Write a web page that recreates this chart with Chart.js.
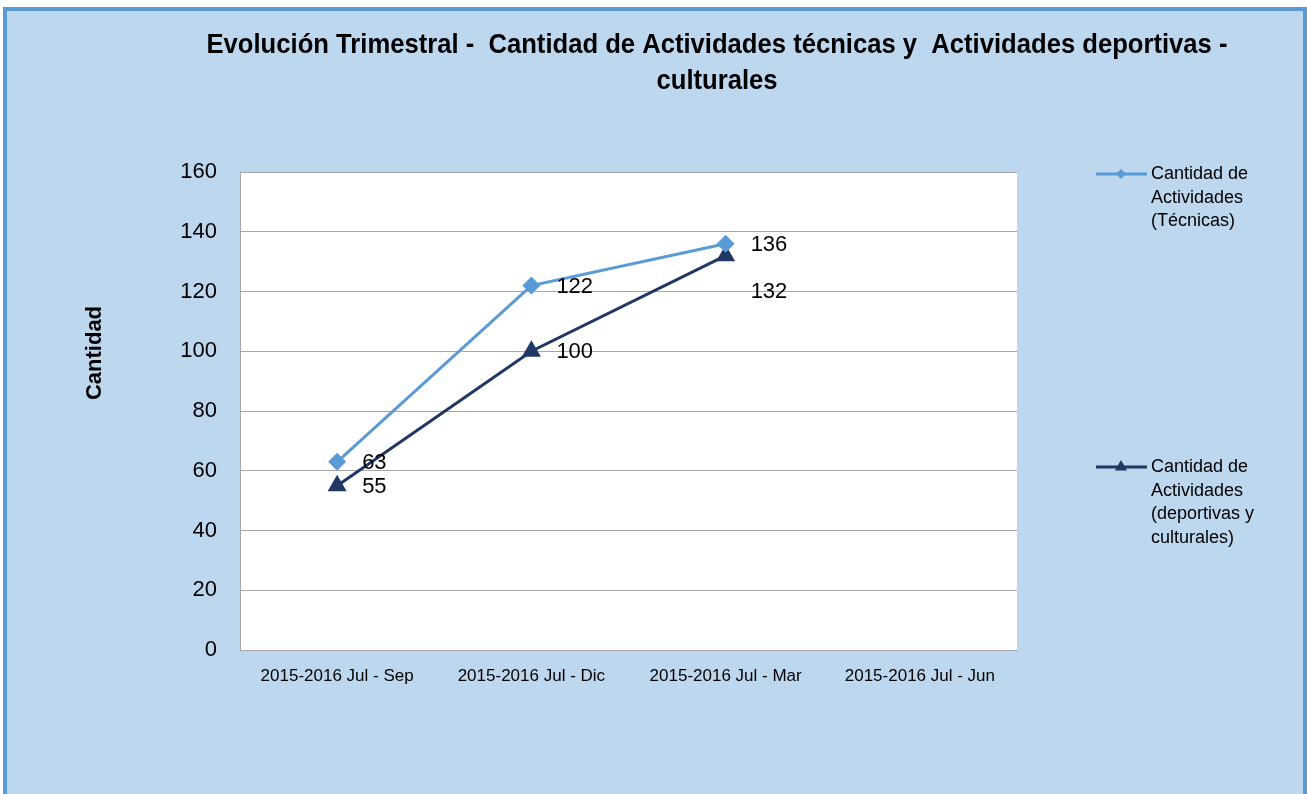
<!DOCTYPE html>
<html>
<head>
<meta charset="utf-8">
<script src="https://cdn.jsdelivr.net/npm/chart.js@4.4.0/dist/chart.umd.min.js"></script>
<style>
  html, body { margin: 0; padding: 0; background: #fff; overflow: hidden; }
  #frame {
    position: absolute; left: 3px; top: 7px; width: 1296px; height: 800px;
    border: 4px solid #5b9bd5; border-bottom: none; background: #bdd7ee;
  }
  #chart { position: absolute; left: 0; top: 0; }
</style>
</head>
<body>
<div id="frame"></div>
<canvas id="chart" width="1307" height="794"></canvas>
<script>
/* Evolución trimestral – actividades técnicas vs deportivas/culturales */

const categories  = ['2015-2016 Jul - Sep', '2015-2016 Jul - Dic', '2015-2016 Jul - Mar', '2015-2016 Jul - Jun'];
const tecnicas    = [63, 122, 136, null];
const deportivas  = [55, 100, 132, null];
const yMin = 0, yMax = 160, yStep = 20;

const titleLines  = ['Evolución Trimestral -  Cantidad de Actividades técnicas y  Actividades deportivas -', 'culturales'];
const yTitle      = 'Cantidad';
const legendTexts = [
  ['Cantidad de', 'Actividades', '(Técnicas)'],
  ['Cantidad de', 'Actividades', '(deportivas y', 'culturales)']
];

const LIGHT = '#5b9bd5';
const DARK  = '#1f3864';
const GRID  = '#a6a6a6';
const FONT  = '"Liberation Sans", Arial, sans-serif';

// white plot area
const plotBg = {
  id: 'plotBg',
  beforeDraw(chart) {
    const { ctx, chartArea: a } = chart;
    ctx.save();
    ctx.fillStyle = '#fff';
    ctx.fillRect(a.left, a.top, a.right - a.left, a.bottom - a.top);
    ctx.restore();
  }
};

// title, axis title and legend, Excel style
const decorations = {
  id: 'decorations',
  afterDraw(chart) {
    const ctx = chart.ctx;
    ctx.save();
    ctx.fillStyle = '#000';

    // title (narrow bold)
    ctx.font = 'bold 28px ' + FONT;
    const w  = ctx.measureText(titleLines[0]).width;
    const sx = Math.min(1, 1021 / w);
    ctx.textAlign = 'center';
    ctx.textBaseline = 'alphabetic';
    [53, 89].forEach((y, i) => {
      ctx.save();
      ctx.translate(717, y);
      ctx.scale(sx, 1);
      ctx.fillText(titleLines[i], 0, 0);
      ctx.restore();
    });

    // y axis title
    ctx.save();
    ctx.font = 'bold 22px ' + FONT;
    ctx.translate(95, 353);
    ctx.rotate(-Math.PI / 2);
    ctx.textBaseline = 'middle';
    ctx.fillText(yTitle, 0, 0);
    ctx.restore();

    // legend
    const items = [
      { y: 174, color: LIGHT, style: 'rectRot', r: 5 },
      { y: 467, color: DARK,  style: 'triangle', r: 7 }
    ];
    items.forEach((it, i) => {
      ctx.strokeStyle = it.color;
      ctx.lineWidth = 3;
      ctx.beginPath();
      ctx.moveTo(1096, it.y);
      ctx.lineTo(1147, it.y);
      ctx.stroke();
      ctx.fillStyle = it.color;
      Chart.helpers.drawPoint(ctx, { pointStyle: it.style, radius: it.r, borderWidth: 0, rotation: 0 }, 1121, it.y);
      ctx.fillStyle = '#000';
      ctx.font = '18px ' + FONT;
      ctx.textAlign = 'left';
      ctx.textBaseline = 'middle';
      legendTexts[i].forEach((t, j) => ctx.fillText(t, 1151, it.y + j * 23.6));
    });
    ctx.restore();
  }
};

// value labels to the right of each point
const valueLabels = {
  id: 'valueLabels',
  afterDatasetsDraw(chart, args, opts) {
    const ctx = chart.ctx;
    ctx.save();
    ctx.fillStyle = '#000';
    ctx.font = '22px ' + FONT;
    ctx.textAlign = 'left';
    ctx.textBaseline = 'middle';
    chart.data.datasets.forEach((ds, di) => {
      chart.getDatasetMeta(di).data.forEach((pt, i) => {
        const v = ds.data[i];
        if (v == null) return;
        const dy = (opts.nudge[di + '-' + i]) || 0;
        ctx.fillText(String(v), pt.x + 25, pt.y + 1 + dy);
      });
    });
    ctx.restore();
  }
};

new Chart(document.getElementById('chart'), {
  type: 'line',
  data: {
    labels: categories,
    datasets: [
      {
        label: 'Cantidad de Actividades (Técnicas)',
        data: tecnicas,
        borderColor: LIGHT, backgroundColor: LIGHT,
        borderWidth: 3, tension: 0,
        pointStyle: 'rectRot', pointRadius: 9, pointBorderWidth: 0
      },
      {
        label: 'Cantidad de Actividades (deportivas y culturales)',
        data: deportivas,
        borderColor: DARK, backgroundColor: DARK,
        borderWidth: 3, tension: 0,
        pointStyle: 'triangle', pointRadius: 11, pointBorderWidth: 0
      }
    ]
  },
  options: {
    responsive: false, animation: false,
    layout: { padding: { top: 172, right: 290, left: 0, bottom: 0 } },
    plugins: {
      legend: { display: false },
      tooltip: { enabled: false },
      valueLabels: { nudge: { '1-2': 35 } }
    },
    scales: {
      x: {
        offset: true,
        grid: { display: false },
        border: { display: true, color: GRID },
        ticks: { color: '#000', font: { family: FONT, size: 17 }, padding: 8, maxRotation: 0 },
        afterFit: s => { s.height = 144; }
      },
      y: {
        min: yMin, max: yMax,
        grid: { color: GRID, drawTicks: false },
        border: { display: true, color: GRID },
        ticks: { stepSize: yStep, color: '#000', font: { family: FONT, size: 22 }, padding: 23 },
        afterFit: s => { s.width = 240; }
      }
    }
  },
  plugins: [plotBg, valueLabels, decorations]
});
</script>
</body>
</html>
